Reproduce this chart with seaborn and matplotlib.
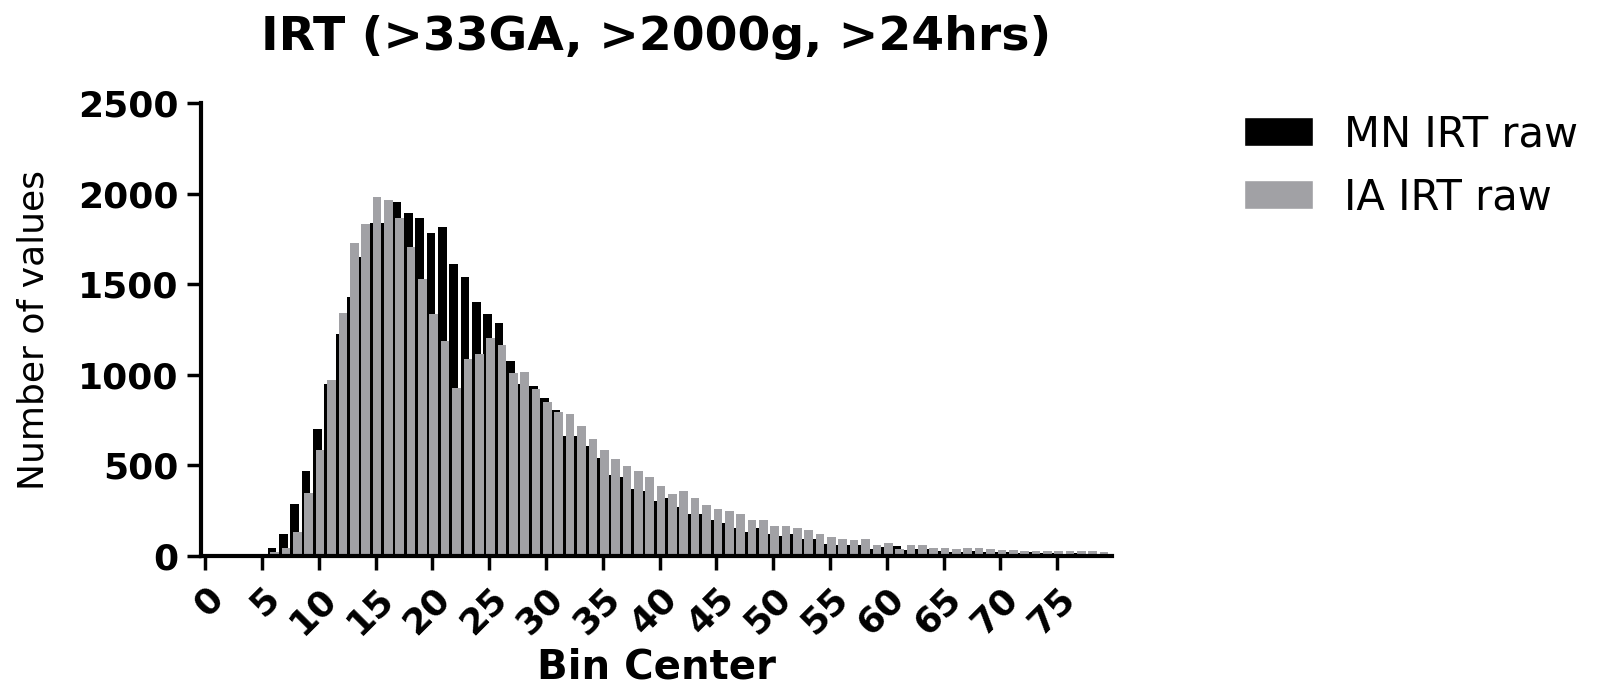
import numpy as np
import seaborn as sns
import matplotlib.pyplot as plt
from matplotlib.patches import Patch

# ---- Data (bin width 1) ----
bin_center = np.arange(6, 80)

mn_irt_raw = [43, 119, 288, 472, 701, 950, 1226, 1428, 1653, 1840,
              1840, 1952, 1892, 1866, 1782, 1815, 1614, 1539, 1401, 1338,
              1288, 1075, 950, 936, 870, 808, 660, 660, 610, 540,
              448, 435, 371, 358, 306, 319, 269, 233, 233, 196,
              181, 156, 131, 156, 119, 108, 119, 95, 95, 67,
              58, 58, 58, 40, 49, 53, 34, 40, 40, 30,
              22, 22, 26, 22, 20, 22, 18, 20, 15, 18,
              12, 15, 10, 10]

ia_irt_raw = [20, 43, 135, 347, 586, 974, 1340, 1726, 1833, 1980,
              1966, 1866, 1704, 1530, 1338, 1187, 925, 1088, 1116, 1203,
              1165, 1008, 1014, 923, 849, 797, 785, 720, 648, 586,
              536, 496, 472, 435, 385, 343, 358, 319, 283, 257,
              246, 233, 196, 196, 168, 168, 156, 145, 119, 106,
              95, 86, 95, 62, 73, 40, 58, 58, 45, 45,
              40, 45, 45, 40, 35, 35, 30, 30, 25, 30,
              25, 30, 25, 20]

x_ticks = list(range(0, 80, 5))
y_ticks = [0, 500, 1000, 1500, 2000, 2500]

BLACK = "#000000"
GRAY = "#a1a1a5"

# ---- Plot ----
sns.set_style("ticks")
plt.rcParams["font.family"] = ["DejaVu Sans"]
plt.rcParams["text.color"] = "black"
plt.rcParams["axes.labelcolor"] = "black"
plt.rcParams["xtick.color"] = "black"
plt.rcParams["ytick.color"] = "black"

fig = plt.figure(figsize=(16.2, 6.87), dpi=100)
ax = fig.add_axes([0.1238, 0.1907, 0.5625, 0.659])

# overlapping grouped bars: black slightly left, gray on top slightly right
sns.barplot(x=bin_center - 0.125, y=mn_irt_raw, native_scale=True, width=0.76,
            color=BLACK, saturation=1, errorbar=None, linewidth=0, ax=ax)
sns.barplot(x=bin_center + 0.125, y=ia_irt_raw, native_scale=True, width=0.76,
            color=GRAY, saturation=1, errorbar=None, linewidth=0, ax=ax)

ax.set_xlim(-0.4, 79.8)
ax.set_ylim(0, 2500)
ax.set_xticks(x_ticks)
ax.set_yticks(y_ticks)
ax.set_xticklabels([str(t) for t in x_ticks], rotation=45, ha="right",
                   va="top", rotation_mode="anchor", fontsize=26,
                   fontweight="bold")
ax.set_yticklabels([str(t) for t in y_ticks], fontsize=26, fontweight="bold")

sns.despine(ax=ax)
for side in ["left", "bottom"]:
    ax.spines[side].set_linewidth(3)
    ax.spines[side].set_color("black")
ax.tick_params(axis="both", length=10, width=2.5, color="black")
ax.tick_params(axis="x", pad=8)
ax.tick_params(axis="y", pad=6)

ax.set_title("IRT (>33GA, >2000g, >24hrs)", fontsize=34, fontweight="bold", pad=38)
ax.set_xlabel("Bin Center", fontsize=29, fontweight="bold")
ax.xaxis.set_label_coords(0.5, -0.203)
ax.set_ylabel("Number of values", fontsize=26, labelpad=20)

handles = [Patch(facecolor=BLACK, label="MN IRT raw"),
           Patch(facecolor=GRAY, label="IA IRT raw")]
ax.legend(handles=handles, loc="upper left", bbox_to_anchor=(0.768, 0.835),
          bbox_transform=fig.transFigure, frameon=False, fontsize=30,
          handlelength=1.65, handleheight=0.68, handletextpad=0.75,
          labelspacing=0.5, borderpad=0, borderaxespad=0)

fig.savefig("out.png", dpi=100)
plt.close(fig)
